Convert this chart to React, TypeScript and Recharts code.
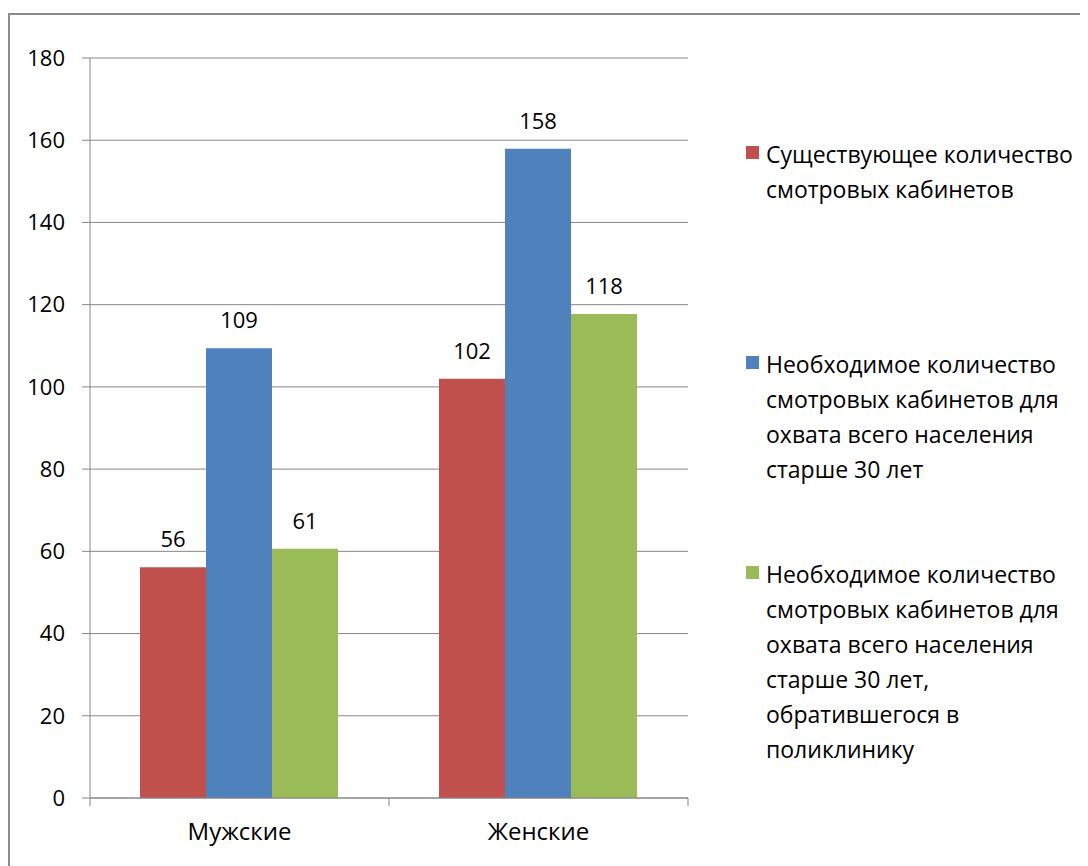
import React from 'react';
import { BarChart, Bar, XAxis, YAxis, CartesianGrid, LabelList } from 'recharts';

const CATEGORIES = ['Мужские', 'Женские'];
const EXISTING = [56.1, 102];
const NEEDED_ALL = [109.4, 157.9];
const NEEDED_VISITED = [60.6, 117.7];
const Y_TICKS = [0, 20, 40, 60, 80, 100, 120, 140, 160, 180];

const SERIES_NAMES = [
  'Существующее количество\nсмотровых кабинетов',
  'Необходимое количество\nсмотровых кабинетов для\nохвата всего населения\nстарше 30 лет',
  'Необходимое количество\nсмотровых кабинетов для\nохвата всего населения\nстарше 30 лет,\nобратившегося в\nполиклинику',
];

const COLORS = ['#C0504D', '#4F81BD', '#9BBB59'];
const KEYS = ['existing', 'neededAll', 'neededVisited'];
const FONT = "'Open Sans', sans-serif";
const GRID = '#868686';

const data = CATEGORIES.map((category, i) => ({
  category,
  existing: EXISTING[i],
  neededAll: NEEDED_ALL[i],
  neededVisited: NEEDED_VISITED[i],
}));

// plot geometry (container coords)
const PLOT_LEFT = 82;
const PLOT_RIGHT = 680;
const HALF_BAND = (PLOT_RIGHT - PLOT_LEFT) / (2 * CATEGORIES.length);

const CategoryTick = (props: any) => {
  const { x, y, payload, index } = props;
  const off = payload && payload.offset ? payload.offset : HALF_BAND;
  return (
    <g>
      <line x1={x - off} x2={x - off} y1={y} y2={y + 8} stroke={GRID} />
      {index === CATEGORIES.length - 1 && (
        <line x1={x + off} x2={x + off} y1={y} y2={y + 8} stroke={GRID} />
      )}
      <text x={x} y={y + 42} textAnchor="middle" fill="#000" fontSize={24} fontFamily={FONT}>
        {payload.value}
      </text>
    </g>
  );
};

function ChartLegend() {
  return (
    <>
      {SERIES_NAMES.map((name, i) => (
        <div
          key={KEYS[i]}
          style={{
            position: 'absolute',
            left: 738,
            top: 164 + i * 245,
            transform: 'translateY(-50%)',
            fontFamily: FONT,
            fontSize: 23,
            lineHeight: '35px',
            color: '#000',
            whiteSpace: 'pre',
          }}
        >
          <span
            style={{
              position: 'absolute',
              left: 0,
              top: 9,
              width: 13,
              height: 13,
              background: COLORS[i],
            }}
          />
          <div style={{ marginLeft: 20 }}>{name}</div>
        </div>
      ))}
    </>
  );
}

export default function App() {
  return (
    <div style={{ position: 'relative', width: 1080, height: 858, background: '#fff' }}>
      <div
        style={{
          position: 'absolute',
          left: 0,
          top: 5,
          width: 1080,
          height: 853,
          borderTop: '2px solid #8c8c8c',
          borderLeft: '2px solid #8c8c8c',
          boxSizing: 'border-box',
        }}
      />
      <div style={{ position: 'absolute', left: 0, top: 0 }}>
        <BarChart
          width={700}
          height={850}
          data={data}
          margin={{ top: 50, right: 20, left: 0, bottom: 20 }}
          barCategoryGap={50}
          barGap={0}
        >
          <CartesianGrid vertical={false} stroke={GRID} />
          <XAxis
            dataKey="category"
            height={40}
            tickLine={false}
            tickSize={0}
            tickMargin={0}
            axisLine={{ stroke: GRID }}
            tick={<CategoryTick />}
            interval={0}
          />
          <YAxis
            width={82}
            domain={[0, 180]}
            ticks={Y_TICKS}
            interval={0}
            tickSize={8}
            tickMargin={17}
            axisLine={{ stroke: GRID }}
            tickLine={{ stroke: GRID }}
            tick={{ fill: '#000', fontSize: 22, fontFamily: FONT }}
          />
          {KEYS.map((key, i) => (
            <Bar key={key} dataKey={key} name={SERIES_NAMES[i]} fill={COLORS[i]} isAnimationActive={false}>
              <LabelList
                dataKey={key}
                position="top"
                offset={20}
                fill="#000"
                fontSize={22}
                fontFamily={FONT}
                formatter={(v: any) => Math.round(Number(v))}
              />
            </Bar>
          ))}
        </BarChart>
      </div>
      <ChartLegend />
    </div>
  );
}
